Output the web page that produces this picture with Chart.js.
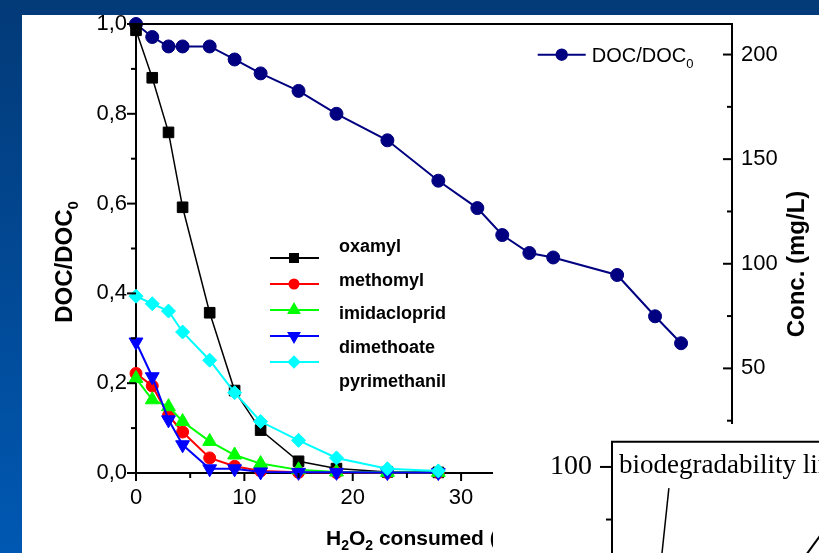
<!DOCTYPE html>
<html>
<head>
<meta charset="utf-8">
<title>DOC/DOC0 and pesticide concentration vs H2O2 consumed</title>
<script src="https://cdn.jsdelivr.net/npm/chart.js@4.4.1/dist/chart.umd.min.js"></script>
<style>
  html, body { margin: 0; padding: 0; }
  body {
    width: 819px; height: 553px; overflow: hidden; position: relative;
    background: linear-gradient(to bottom, #033a78 0%, #0058b2 100%);
  }
  #main-box { position: absolute; left: 22px; top: 15px; width: 797px; height: 538px; background: #fff; }
  #inset-box { position: absolute; left: 493px; top: 424px; width: 326px; height: 129px; background: #fff; overflow: hidden; }
</style>
</head>
<body>
<div id="main-box"><canvas id="main" width="797" height="538"></canvas></div>
<div id="inset-box"><canvas id="inset" width="420" height="300"></canvas></div>
<script>
// H2O2 consumed (mM) for the DOC samples
const doseDoc = [0, 1.5, 3, 4.3, 6.8, 9.1, 11.5, 15, 18.5, 23.2, 27.9, 31.5, 33.8, 36.3, 38.5, 44.4, 47.9, 50.3];
// DOC/DOC0 (left axis)
const docRatio = [1.0, 0.971, 0.95, 0.95, 0.95, 0.921, 0.89, 0.851, 0.80, 0.741, 0.651, 0.59, 0.53, 0.49, 0.48, 0.441, 0.349, 0.289];

// H2O2 consumed (mM) for the pesticide samples
const doseConc = [0, 1.5, 3, 4.3, 6.8, 9.1, 11.5, 15, 18.5, 23.2, 27.9];
// concentrations in mg/L (right axis)
const oxamyl = [211.6, 188.9, 162.8, 127.0, 76.6, 39.4, 20.5, 5.6, 2.1, 0.5, 0.3];
const methomyl = [47.6, 41.6, 27.5, 19.6, 7.2, 3.2, 1.0, 0.3, 0.2, 0.2, 0.2];
const imidacloprid = [45.2, 35.0, 31.7, 24.6, 15.1, 8.6, 4.5, 1.5, 0.5, 0.3, 0.3];
const dimethoate = [62.6, 46.0, 25.4, 13.5, 2.0, 2.0, 0.5, 0.3, 0.3, 0.2, 0.2];
const pyrimethanil = [84.5, 80.9, 77.4, 67.4, 53.9, 38.4, 24.6, 15.6, 7.2, 2.0, 1.0];

const compoundNames = ['oxamyl', 'methomyl', 'imidacloprid', 'dimethoate', 'pyrimethanil'];
const compoundValues = [oxamyl, methomyl, imidacloprid, dimethoate, pyrimethanil];

// overlapping inset (only its corner is visible)
const insetLineX = [64.5, 70];
const insetLineY = [58.2, 69];
const pointerX = [18.9, 15.2];
const pointerY = [89.9, 40];

const SANS = '"Liberation Sans", Arial, sans-serif';
const SERIF = '"Liberation Serif", "Times New Roman", serif';

const compoundStyles = [
  { color: '#000000', style: 'rect', radius: 7.5, rotation: 0, width: 1.5 },
  { color: '#ff0000', style: 'circle', radius: 6, rotation: 0, width: 2 },
  { color: '#00ff00', style: 'triangle', radius: 8, rotation: 0, width: 2 },
  { color: '#0000ff', style: 'triangle', radius: 8, rotation: 180, width: 2 },
  { color: '#00ffff', style: 'rectRot', radius: 7, rotation: 0, width: 2 },
];
const docStyle = { color: '#000080', style: 'circle', radius: 6.5, rotation: 0, width: 2 };

function pts(xs, ys) {
  return xs.map((x, i) => ({ x: x, y: ys[i] }));
}
function isStep(v, step) {
  const r = v / step;
  return Math.abs(r - Math.round(r)) < 1e-6;
}

function drawMarker(ctx, st, x, y, scale) {
  ctx.save();
  ctx.fillStyle = st.color;
  ctx.strokeStyle = st.color;
  Chart.helpers.drawPoint(ctx, {
    pointStyle: st.style, rotation: st.rotation, radius: st.radius * scale, borderWidth: 1
  }, x, y);
  ctx.restore();
}

// text with a subscript piece, parts = [[text, isSub], ...]
function partsWidth(ctx, parts, font, subFont) {
  let w = 0;
  parts.forEach(p => { ctx.font = p[1] ? subFont : font; w += ctx.measureText(p[0]).width; });
  return w;
}
function drawParts(ctx, parts, x, y, font, subFont, subDrop) {
  ctx.textBaseline = 'alphabetic';
  ctx.textAlign = 'left';
  parts.forEach(p => {
    ctx.font = p[1] ? subFont : font;
    ctx.fillText(p[0], x, p[1] ? y + subDrop : y);
    x += ctx.measureText(p[0]).width;
  });
}

const datasets = [];
compoundNames.forEach((name, i) => {
  const st = compoundStyles[i];
  datasets.push({
    label: name,
    data: pts(doseConc, compoundValues[i]),
    yAxisID: 'y1',
    borderColor: st.color,
    backgroundColor: st.color,
    borderWidth: st.width,
    pointStyle: st.style,
    pointRotation: st.rotation,
    pointRadius: st.radius,
    pointBorderWidth: 1,
    order: compoundNames.length - i,
    clip: false,
  });
});
datasets.push({
  label: 'DOC/DOC0',
  data: pts(doseDoc, docRatio),
  yAxisID: 'y',
  borderColor: docStyle.color,
  backgroundColor: docStyle.color,
  borderWidth: docStyle.width,
  pointStyle: docStyle.style,
  pointRadius: docStyle.radius,
  pointBorderWidth: 1,
  order: 10,
  clip: false,
});

// tick marks: major/minor step, lengths, inward or not
const tickMarks = {
  x: { major: 10, minor: 5, len: 8, minorLen: 5, inward: false },
  y: { major: 0.2, minor: 0.1, len: 9, minorLen: 5, inward: false },
  y1: { major: 50, minor: 25, len: 9, minorLen: 5, inward: true },
};

function drawTickMarks(chart, marks) {
  const ctx = chart.ctx;
  const a = chart.chartArea;
  ctx.save();
  ctx.strokeStyle = '#000';
  ctx.lineWidth = 2;
  Object.keys(marks).forEach(id => {
    const s = chart.scales[id];
    const m = marks[id];
    s.ticks.forEach(t => {
      const v = t.value;
      let len;
      if (isStep(v, m.major)) len = m.len;
      else if (isStep(v, m.minor)) len = m.minorLen;
      else return;
      const p = s.getPixelForValue(v);
      ctx.beginPath();
      if (s.position === 'bottom') {
        ctx.moveTo(p, a.bottom); ctx.lineTo(p, a.bottom + len);
      } else if (s.position === 'left') {
        ctx.moveTo(a.left, p); ctx.lineTo(a.left - len, p);
      } else {
        ctx.moveTo(a.right, p); ctx.lineTo(m.inward ? a.right - len : a.right + len, p);
      }
      ctx.stroke();
    });
  });
  ctx.restore();
}

const framePlugin = {
  id: 'frame',
  afterDraw(chart) {
    const ctx = chart.ctx;
    const a = chart.chartArea;
    ctx.save();
    ctx.strokeStyle = '#000';
    ctx.lineWidth = 2;
    ctx.beginPath();
    ctx.moveTo(a.left - 1, a.top);
    ctx.lineTo(a.right + 1, a.top);
    ctx.stroke();
    ctx.restore();
    drawTickMarks(chart, tickMarks);
  }
};

const titlePlugin = {
  id: 'titles',
  afterDraw(chart) {
    const ctx = chart.ctx;
    const a = chart.chartArea;
    ctx.save();
    ctx.fillStyle = '#000';
    // left title
    const bold = 'bold 24px ' + SANS;
    const boldSub = 'bold 15px ' + SANS;
    let parts = [['DOC/DOC', false], ['0', true]];
    let w = partsWidth(ctx, parts, bold, boldSub);
    ctx.save();
    ctx.translate(a.left - 72, a.top + 238);
    ctx.rotate(-Math.PI / 2);
    drawParts(ctx, parts, -w / 2, 8, bold, boldSub, 6);
    ctx.restore();
    // right title
    ctx.save();
    ctx.font = bold;
    ctx.translate(a.right + 65, a.top + 240);
    ctx.rotate(-Math.PI / 2);
    ctx.textAlign = 'center';
    ctx.textBaseline = 'middle';
    ctx.fillText('Conc. (mg/L)', 0, 0);
    ctx.restore();
    // bottom title
    const xb = 'bold 21px ' + SANS;
    const xs = 'bold 14px ' + SANS;
    parts = [['H', false], ['2', true], ['O', false], ['2', true], [' consumed (mM)', false]];
    drawParts(ctx, parts, a.left + 190, a.bottom + 72, xb, xs, 5);
    ctx.restore();
  }
};

const legendPlugin = {
  id: 'customLegend',
  afterDraw(chart) {
    const ctx = chart.ctx;
    const a = chart.chartArea;
    ctx.save();
    // pesticide legend: samples and names sit on different spacings
    compoundNames.forEach((name, i) => {
      const st = compoundStyles[i];
      const ys = a.top + 234 + i * 26;
      ctx.strokeStyle = st.color;
      ctx.lineWidth = 2;
      ctx.beginPath();
      ctx.moveTo(a.left + 134, ys);
      ctx.lineTo(a.left + 183, ys);
      ctx.stroke();
      drawMarker(ctx, st, a.left + 158, ys, 0.75);
      ctx.fillStyle = '#000';
      ctx.font = 'bold 18px ' + SANS;
      ctx.textAlign = 'left';
      ctx.textBaseline = 'middle';
      ctx.fillText(name, a.left + 203, a.top + 223 + i * 33.7);
    });
    // DOC legend
    const yd = a.top + 30.7;
    ctx.strokeStyle = docStyle.color;
    ctx.lineWidth = 2;
    ctx.beginPath();
    ctx.moveTo(a.left + 401.7, yd);
    ctx.lineTo(a.left + 449.7, yd);
    ctx.stroke();
    drawMarker(ctx, docStyle, a.left + 425.7, yd, 0.8);
    ctx.fillStyle = '#000';
    drawParts(ctx, [['DOC/DOC', false], ['0', true]], a.left + 455.7, yd + 7.5,
      '20px ' + SANS, '13px ' + SANS, 6);
    ctx.restore();
  }
};

function noPad(s) {
  s.paddingTop = 0; s.paddingBottom = 0; s.paddingLeft = 0; s.paddingRight = 0;
}

const tickFont = { family: SANS, size: 22 };

new Chart(document.getElementById('main'), {
  type: 'line',
  data: { datasets: datasets },
  options: {
    responsive: false,
    animation: false,
    layout: { padding: { top: 7, left: 0, right: 0, bottom: 0 } },
    elements: { line: { tension: 0 } },
    plugins: { legend: { display: false }, tooltip: { enabled: false } },
    scales: {
      x: {
        type: 'linear', position: 'bottom', min: 0, max: 55,
        grid: { display: false, drawTicks: false },
        border: { display: true, color: '#000', width: 2 },
        ticks: {
          stepSize: 5, autoSkip: false, maxRotation: 0, padding: 12, color: '#000', font: tickFont,
          includeBounds: false,
          callback: v => isStep(v, 10) ? String(v) : ''
        },
        afterFit: s => { s.height = 80; noPad(s); }
      },
      y: {
        type: 'linear', position: 'left', min: 0, max: 1,
        grid: { display: false, drawTicks: false },
        border: { display: true, color: '#000', width: 2 },
        ticks: {
          stepSize: 0.1, autoSkip: false, padding: 9, color: '#000', font: tickFont,
          callback: v => isStep(v, 0.2) ? v.toFixed(1).replace('.', ',') : ''
        },
        afterFit: s => { s.width = 114; noPad(s); }
      },
      y1: {
        type: 'linear', position: 'right', min: 0, max: 214.6,
        grid: { display: false, drawTicks: false },
        border: { display: true, color: '#000', width: 2 },
        ticks: {
          stepSize: 25, autoSkip: false, padding: 9, color: '#000', font: tickFont,
          includeBounds: false,
          callback: v => isStep(v, 50) ? String(v) : ''
        },
        afterFit: s => { s.width = 87; noPad(s); }
      }
    }
  },
  plugins: [framePlugin, titlePlugin, legendPlugin]
});

// inset chart lying over the lower right corner
const insetMarks = { y: { major: 50, minor: 25, len: 12, minorLen: 6, inward: false } };

const insetPlugin = {
  id: 'insetFrame',
  afterDraw(chart) {
    const ctx = chart.ctx;
    const a = chart.chartArea;
    ctx.save();
    ctx.strokeStyle = '#000';
    ctx.lineWidth = 2;
    ctx.beginPath();
    ctx.moveTo(a.left - 1, a.top);
    ctx.lineTo(a.right, a.top);
    ctx.stroke();
    ctx.fillStyle = '#000';
    ctx.font = '27px ' + SERIF;
    ctx.textAlign = 'left';
    ctx.textBaseline = 'alphabetic';
    ctx.fillText('biodegradability limit', a.left + 7, a.top + 31.6);
    ctx.restore();
    drawTickMarks(chart, insetMarks);
  }
};

new Chart(document.getElementById('inset'), {
  type: 'line',
  data: {
    datasets: [
      { label: 'pointer', data: pts(pointerX, pointerY), borderColor: '#000', borderWidth: 1.5, pointRadius: 0 },
      { label: 'biodegradability', data: pts(insetLineX, insetLineY), borderColor: '#000', borderWidth: 2, pointRadius: 0 }
    ]
  },
  options: {
    responsive: false,
    animation: false,
    layout: { padding: { top: 17.7, left: 0, right: 0, bottom: 46.7 } },
    plugins: { legend: { display: false }, tooltip: { enabled: false } },
    scales: {
      x: { type: 'linear', min: 0, max: 100, display: false },
      y: {
        type: 'linear', position: 'left', min: 0, max: 112,
        grid: { display: false, drawTicks: false },
        border: { display: true, color: '#000', width: 2 },
        ticks: {
          stepSize: 25, autoSkip: false, padding: 20, color: '#000', font: { family: SERIF, size: 28 },
          includeBounds: false,
          callback: v => isStep(v, 50) ? String(v) : ''
        },
        afterFit: s => { s.width = 119; noPad(s); }
      }
    }
  },
  plugins: [insetPlugin]
});
</script>
</body>
</html>
